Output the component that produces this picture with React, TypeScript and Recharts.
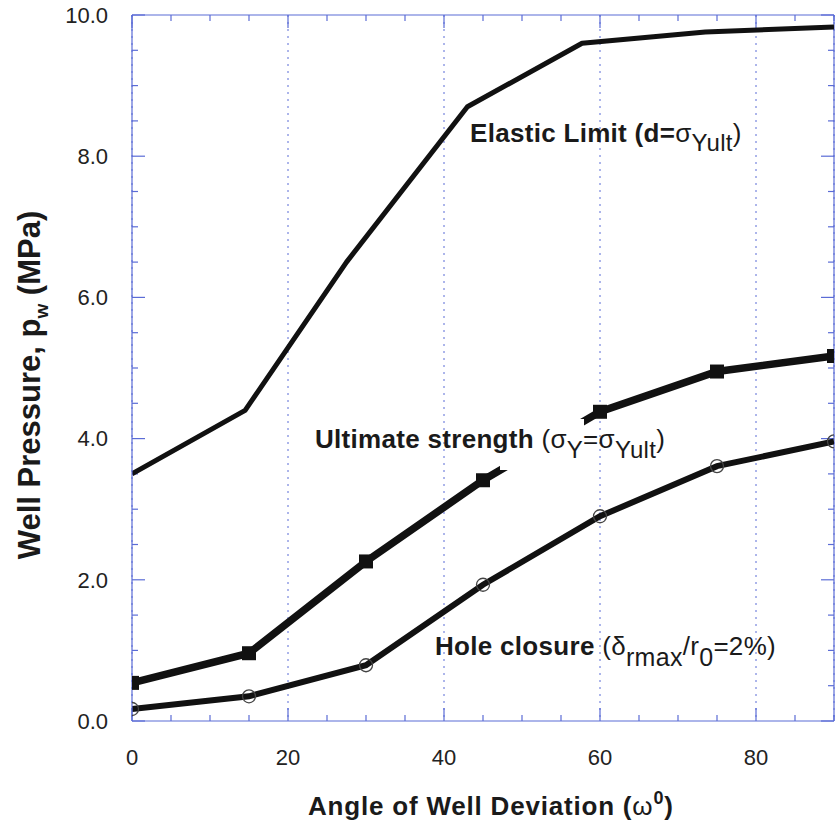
import React from 'react';
import { LineChart, Line, XAxis, YAxis, CartesianGrid, ReferenceLine } from 'recharts';

// well deviation angle (deg) vs well pressure (MPa)
const elasticLimit = [
  { angle: 0, p: 3.5 },
  { angle: 14.5, p: 4.4 },
  { angle: 27.5, p: 6.5 },
  { angle: 43, p: 8.7 },
  { angle: 57.7, p: 9.6 },
  { angle: 73.5, p: 9.76 },
  { angle: 90, p: 9.83 },
];

const ultimateStrength = [
  { angle: 0, p: 0.54 },
  { angle: 15, p: 0.96 },
  { angle: 30, p: 2.26 },
  { angle: 45, p: 3.41 },
  { angle: 60, p: 4.38 },
  { angle: 75, p: 4.95 },
  { angle: 90, p: 5.17 },
];

const holeClosure = [
  { angle: 0, p: 0.17 },
  { angle: 15, p: 0.35 },
  { angle: 30, p: 0.79 },
  { angle: 45, p: 1.93 },
  { angle: 60, p: 2.9 },
  { angle: 75, p: 3.61 },
  { angle: 90, p: 3.96 },
];

const xTicks = [0, 20, 40, 60, 80];
const yTicks = [0, 2, 4, 6, 8, 10];
const xSmallTicks = [0, 5, 10, 15, 20, 25, 30, 35, 40, 45, 50, 55, 60, 65, 70, 75, 80, 85, 90];
const ySmallTicks = [0, 0.5, 1, 1.5, 2, 2.5, 3, 3.5, 4, 4.5, 5, 5.5, 6, 6.5, 7, 7.5, 8, 8.5, 9, 9.5, 10];

const W = 835;
const H = 825;
const Y_AXIS_W = 132;
const X_AXIS_H = 104;
const TOP = 15;
const PLOT_W = W - Y_AXIS_W - 1;
const PLOT_H = H - TOP - X_AXIS_H;
const X_PX = PLOT_W / 90;
const Y_PX = PLOT_H / 10;
const PLOT_BOTTOM = TOP + PLOT_H;

const AXIS = '#5b6cd6';
const FONT = '"Liberation Sans", Arial, Helvetica, sans-serif';

const tickLen = (major: boolean) => (major ? 13 : 6);

const SquareDot = (props: any) => {
  const { cx, cy, index } = props;
  if (cx == null || cy == null) return null;
  return <rect key={`sq-${index}`} x={cx - 7} y={cy - 7} width={14} height={14} fill="#111" />;
};

// x tick labels sit a fixed distance under the plot
const XTick = (props: any) => {
  const { x, payload } = props;
  return (
    <text x={x} y={PLOT_BOTTOM + 44} textAnchor="middle" fontSize={22} fill="#222" fontFamily={FONT}>
      {payload.value}
    </text>
  );
};

function Labels() {
  const bold = { fontFamily: FONT, fontWeight: 700, fill: '#1a1a1a' } as const;
  return (
    <svg width={W} height={H} style={{ position: 'absolute', left: 0, top: 0, pointerEvents: 'none' }}>
      {/* the curve is broken behind this label in the original */}
      <rect x={500} y={419} width={84} height={51} fill="#fff" />

      <text x={470} y={142} fontSize={26} {...bold} letterSpacing={0.3}>
        Elastic Limit (d=
        <tspan fontWeight={400}>σ</tspan>
        <tspan fontWeight={400} dy={9} fontSize={24}>Yult</tspan>
        <tspan fontWeight={400} dy={-9}>)</tspan>
      </text>

      <text x={315} y={448} fontSize={26} {...bold} letterSpacing={0.3}>
        Ultimate strength
        <tspan fontWeight={400}> (σ</tspan>
        <tspan fontWeight={400} dy={10} fontSize={24}>Y</tspan>
        <tspan fontWeight={400} dy={-10}>=σ</tspan>
        <tspan fontWeight={400} dy={10} fontSize={24}>Yult</tspan>
        <tspan fontWeight={400} dy={-10}>)</tspan>
      </text>

      <text x={435} y={655} fontSize={26} {...bold} letterSpacing={0.3}>
        Hole closure
        <tspan fontWeight={400}> (δ</tspan>
        <tspan fontWeight={400} dy={11} fontSize={25}>rmax</tspan>
        <tspan fontWeight={400} dy={-11}>/r</tspan>
        <tspan fontWeight={400} dy={11} fontSize={25}>0</tspan>
        <tspan fontWeight={400} dy={-11}>=2%)</tspan>
      </text>

      <text x={308} y={815} fontSize={26} {...bold} letterSpacing={0.8}>
        Angle of Well Deviation (
        <tspan fontWeight={400}>ω</tspan>
        <tspan dy={-11} fontSize={18}>0</tspan>
        <tspan dy={11}>)</tspan>
      </text>

      <text
        transform="translate(40, 385) rotate(-90)"
        textAnchor="middle"
        fontSize={31}
        {...bold}
      >
        Well Pressure, p
        <tspan dy={8} fontSize={19}>w</tspan>
        <tspan dy={-8}> (MPa)</tspan>
      </text>
    </svg>
  );
}

export default function App() {
  return (
    <div style={{ position: 'absolute', left: 0, top: 0, width: W, height: H, background: '#fff' }}>
      <LineChart width={W} height={H} margin={{ top: TOP, right: 1, bottom: 0, left: 0 }}>
        <CartesianGrid horizontal={false} stroke={AXIS} strokeDasharray="2 5" strokeWidth={1} />
        <XAxis
          type="number"
          dataKey="angle"
          domain={[0, 90]}
          ticks={xTicks}
          height={X_AXIS_H}
          allowDataOverflow
          axisLine={{ stroke: AXIS, strokeWidth: 1.2 }}
          tickLine={false}
          tick={<XTick />}
        />
        <YAxis
          type="number"
          dataKey="p"
          domain={[0, 10]}
          ticks={yTicks}
          width={Y_AXIS_W}
          allowDataOverflow
          axisLine={{ stroke: AXIS, strokeWidth: 1.2 }}
          tickLine={false}
          tickMargin={18}
          tickFormatter={(v: number) => v.toFixed(1)}
          tick={{ fontSize: 22, fill: '#222', fontFamily: FONT }}
        />

        <ReferenceLine y={10} stroke={AXIS} strokeWidth={1.2} />
        <ReferenceLine x={90} stroke={AXIS} strokeWidth={1.2} />

        {xSmallTicks.map(v => (
          <ReferenceLine key={`b${v}`} stroke={AXIS} strokeWidth={1.2} ifOverflow="visible"
            segment={[{ x: v, y: 0 }, { x: v, y: tickLen(v % 20 === 0) / Y_PX }]} />
        ))}
        {xSmallTicks.map(v => (
          <ReferenceLine key={`t${v}`} stroke={AXIS} strokeWidth={1.2} ifOverflow="visible"
            segment={[{ x: v, y: 10 }, { x: v, y: 10 - tickLen(v % 20 === 0) / Y_PX }]} />
        ))}
        {ySmallTicks.map(v => (
          <ReferenceLine key={`l${v}`} stroke={AXIS} strokeWidth={1.2} ifOverflow="visible"
            segment={[{ x: 0, y: v }, { x: tickLen(v % 2 === 0) / X_PX, y: v }]} />
        ))}
        {ySmallTicks.map(v => (
          <ReferenceLine key={`r${v}`} stroke={AXIS} strokeWidth={1.2} ifOverflow="visible"
            segment={[{ x: 90, y: v }, { x: 90 - tickLen(v % 2 === 0) / X_PX, y: v }]} />
        ))}

        <Line data={elasticLimit} dataKey="p" type="linear" stroke="#111" strokeWidth={5}
          dot={false} isAnimationActive={false} strokeLinejoin="round" />
        <Line data={ultimateStrength} dataKey="p" type="linear" stroke="#111" strokeWidth={7.5}
          dot={SquareDot} isAnimationActive={false} strokeLinejoin="miter" />
        <Line data={holeClosure} dataKey="p" type="linear" stroke="#111" strokeWidth={6}
          dot={{ r: 6.5, fill: 'none', stroke: '#444', strokeWidth: 1.3 }} isAnimationActive={false} />
      </LineChart>
      <Labels />
    </div>
  );
}
